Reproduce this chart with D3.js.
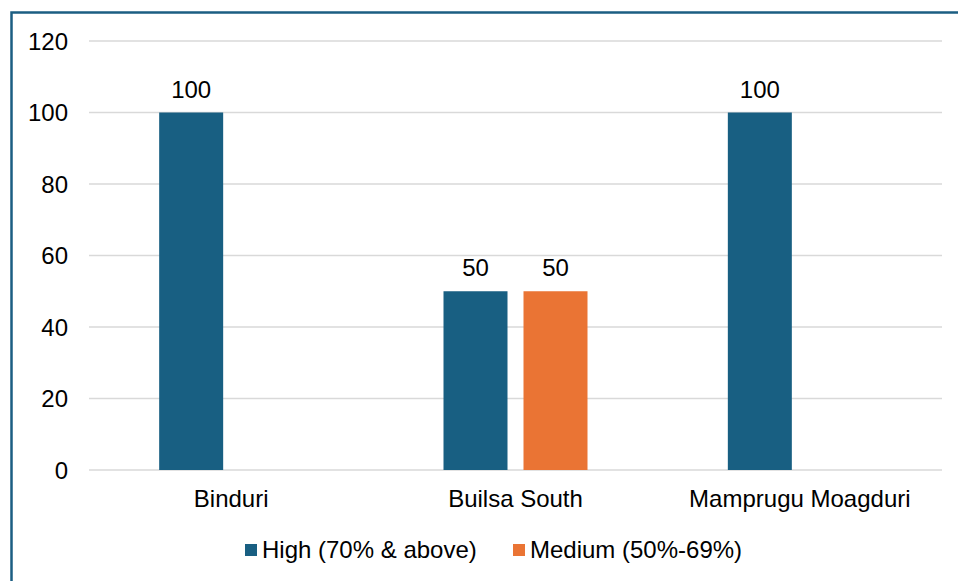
<!DOCTYPE html>
<html>
<head>
<meta charset="utf-8">
<script src="https://cdn.jsdelivr.net/npm/d3@7"></script>
<style>
  html, body { margin: 0; padding: 0; background: #fff; }
  svg { display: block; font-family: "Liberation Sans", Arial, sans-serif; }
</style>
</head>
<body>
<svg id="chart" width="958" height="581"></svg>
<script>
// Districts on the x axis
const categories = ["Binduri", "Builsa South", "Mamprugu Moagduri"];
// Share of facilities per performance band (null = no bar)
const seriesNames = ["High (70% & above)", "Medium (50%-69%)"];
const highValues = [100, 50, 100];
const mediumValues = [null, 50, null];
const yTicks = [0, 20, 40, 60, 80, 100, 120];
const colors = ["#185f82", "#ea7434"];

const svg = d3.select("#chart");
const W = 958, H = 581;
const FS = 24;

// Outer frame (left and top edges visible)
svg.append("rect")
  .attr("x", 11.5).attr("y", 12.5)
  .attr("width", W + 20).attr("height", H + 20)
  .attr("fill", "#fff")
  .attr("stroke", "#1b5e82")
  .attr("stroke-width", 2.5);

const plot = { left: 89, right: 942, top: 41, bottom: 470 };

const x = d3.scaleBand()
  .domain(categories)
  .range([plot.left, plot.right])
  .paddingInner(0).paddingOuter(0);

const y = d3.scaleLinear()
  .domain([0, 120])
  .range([plot.bottom, plot.top]);

const barW = 64, barGap = 16;
const groupW = barW * 2 + barGap;
const sub = d3.scaleOrdinal().domain([0, 1]).range([0, barW + barGap]);

// Gridlines
svg.append("g")
  .selectAll("line")
  .data(yTicks)
  .join("line")
  .attr("x1", plot.left).attr("x2", plot.right)
  .attr("y1", d => y(d)).attr("y2", d => y(d))
  .attr("stroke", "#d9d9d9")
  .attr("stroke-width", 1.5);

// Y axis labels
const yAxis = d3.axisLeft(y).tickValues(yTicks).tickSize(0).tickPadding(0);
const gy = svg.append("g").attr("transform", `translate(68,0)`).call(yAxis);
gy.select(".domain").remove();
gy.selectAll("text")
  .attr("font-size", FS)
  .attr("font-family", "Liberation Sans, Arial, sans-serif")
  .attr("fill", "#000")
  .attr("dy", "0.35em");

// X axis labels
const xAxis = d3.axisBottom(x).tickSize(0).tickPadding(0);
const gx = svg.append("g").attr("transform", `translate(0,${plot.bottom})`).call(xAxis);
gx.select(".domain").remove();
gx.selectAll("text")
  .attr("font-size", FS)
  .attr("font-family", "Liberation Sans, Arial, sans-serif")
  .attr("fill", "#000")
  .attr("y", 37)
  .attr("dy", 0);

// Bars
const series = [highValues, mediumValues];
const bars = [];
series.forEach((vals, si) => {
  vals.forEach((v, ci) => {
    if (v == null) return;
    bars.push({ si, cat: categories[ci], v });
  });
});

const gBars = svg.append("g");
gBars.selectAll("rect")
  .data(bars)
  .join("rect")
  .attr("x", d => x(d.cat) + x.bandwidth() / 2 - groupW / 2 + sub(d.si))
  .attr("y", d => y(d.v))
  .attr("width", barW)
  .attr("height", d => y(0) - y(d.v))
  .attr("fill", d => colors[d.si]);

// Value labels
gBars.selectAll("text")
  .data(bars)
  .join("text")
  .attr("x", d => x(d.cat) + x.bandwidth() / 2 - groupW / 2 + sub(d.si) + barW / 2)
  .attr("y", d => y(d.v) - 15)
  .attr("text-anchor", "middle")
  .attr("font-size", FS)
  .attr("fill", "#000")
  .text(d => d.v);

// Legend
const legendItems = [
  { name: seriesNames[0], color: colors[0], x: 245 },
  { name: seriesNames[1], color: colors[1], x: 513 }
];
const lg = svg.append("g");
legendItems.forEach(it => {
  lg.append("rect")
    .attr("x", it.x).attr("y", 544)
    .attr("width", 12).attr("height", 12)
    .attr("fill", it.color);
  lg.append("text")
    .attr("x", it.x + 17).attr("y", 558)
    .attr("font-size", FS)
    .attr("fill", "#000")
    .text(it.name);
});
</script>
</body>
</html>
